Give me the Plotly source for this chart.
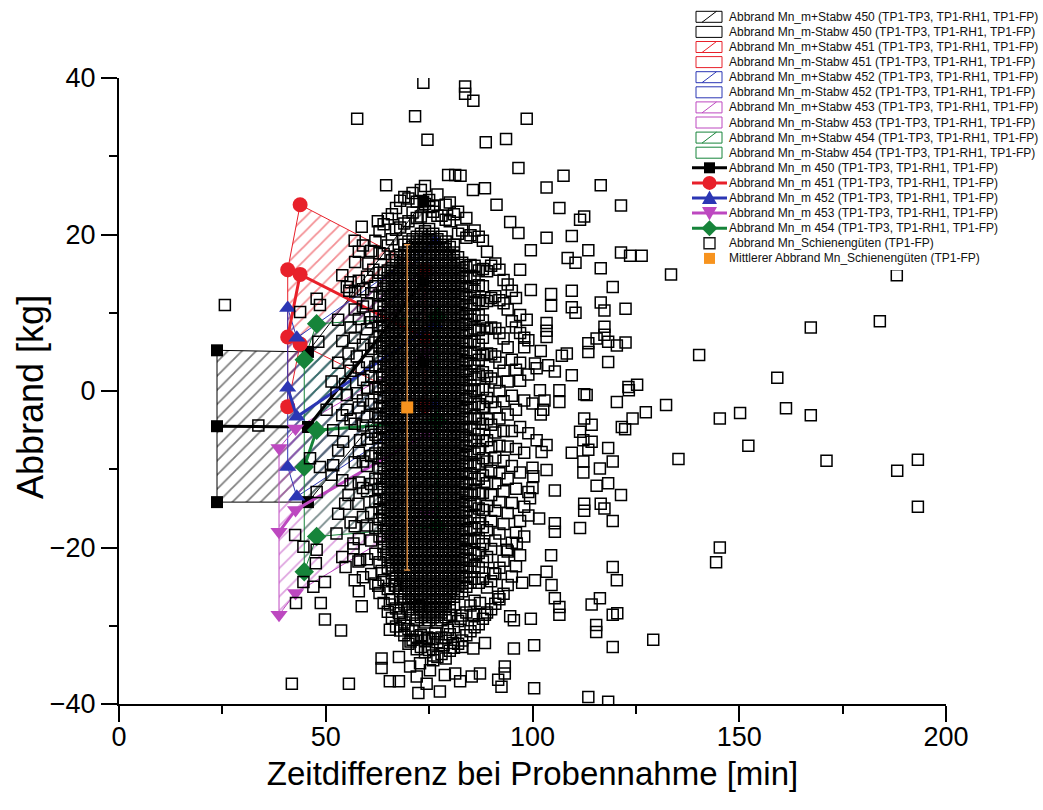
import plotly.graph_objects as go

# ---------------------------------------------------------------
# Abbrand Mn je Schmelze (Zeitpunkte TP1-TP3, TP1-RH1, TP1-FP)
# ---------------------------------------------------------------
zeit_450 = [23.7, 45.7, 73.6]
mittel_450 = [-4.5, -4.6, 14.0]
plus_450 = [5.2, 5.0, 24.2]
minus_450 = [-14.2, -14.2, 3.8]

zeit_451 = [40.8, 43.8, 74.0]
mittel_451 = [6.9, 14.9, 6.8]
plus_451 = [15.5, 23.8, 15.5]
minus_451 = [-2.0, 6.0, -1.9]

zeit_452 = [40.8, 43.0, 76.4]
mittel_452 = [0.4, -3.3, 8.6]
plus_452 = [10.6, 6.8, 19.1]
minus_452 = [-9.7, -13.5, -1.9]

zeit_453 = [38.7, 42.7, 74.4]
mittel_453 = [-18.0, -15.2, -5.5]
plus_453 = [-7.3, -4.8, 5.0]
minus_453 = [-28.6, -25.8, -15.8]

zeit_454 = [44.8, 47.8, 77.0]
mittel_454 = [-9.7, -5.0, -3.8]
plus_454 = [4.0, 8.6, 9.5]
minus_454 = [-23.1, -18.6, -17.3]

# Mittlerer Abbrand aller Schienengüten (TP1-FP) mit Standardabweichung
mittel_schiene_x = [69.7]
mittel_schiene_y = [-2.1]
mittel_schiene_std = [20.8]

# Einzelwerte Schienengüten (TP1-FP): Abbrand [kg] je Minute Zeitdifferenz
schiene_spalten = {
    53: "-15.7 -7.6 3.6 9.1",
    54: "-21.2 -11.4 -3.1 6.4 14.8",
    56: "-16.8 -11.9 -3.6 2.6 8.1 13.9",
    57: "-24.2 -17.3 -9.1 -4.2 6.8 10.4 19.2",
    58: "-25.6 -18.9 -11.7 -7.9 -2.1 3.0 9.2 14.1 17.8",
    59: "-23.8 -16.1 -12.4 -9.0 -4.4 -1.2 5.9 10.8 13.0 18.6",
    60: "-21.5 -17.2 -12.8 -9.6 -6.1 -3.3 0.4 3.7 7.9 11.2 14.6",
    61: "-23.4 -19.1 -15.6 -11.9 -8.3 -5.2 -1.7 1.9 5.4 8.8 12.5 17.9",
    62: "-24.6 -20.8 -17.5 -14.1 -11.2 -8.0 -5.6 -2.9 0.3 3.1 6.2 9.5 13.4 19.2",
    63: "-25.8 -21.9 -18.6 -16.4 -15.1 -13.8 -12.5 -11.2 -9.9 -8.6 -7.3 -6.0 -4.7 -3.4 -2.1 "
        "-0.8 0.5 1.8 3.1 4.4 5.7 7.0 8.3 9.6 10.9 12.2 15.1 17.6 20.4",
    64: "-27.1 -24.2 -20.9 -19.9 -18.9 -17.9 -16.9 -15.9 -14.9 -13.9 -12.9 -11.9 -10.9 -9.9 "
        "-8.9 -7.9 -6.9 -5.9 -4.9 -3.9 -2.9 -1.9 -0.9 0.1 1.1 2.1 3.1 4.1 5.1 6.1 7.1 8.1 9.1 "
        "10.1 11.1 12.1 13.1 14.1 15.1 17.5 21.3",
    65: "-28.2 -25.3 -22.6 -21.6 -20.6 -19.6 -18.6 -17.6 -16.6 -15.6 -14.6 -13.6 -12.6 -11.6 "
        "-10.6 -9.6 -8.6 -7.6 -6.6 -5.6 -4.6 -3.6 -2.6 -1.6 -0.6 0.4 1.4 2.4 3.4 4.4 5.4 6.4 "
        "7.4 8.4 9.4 10.4 11.4 12.4 13.4 14.4 15.4 18.6 22.0",
    66: "-29.0 -26.6 -24.3 -23.3 -22.3 -21.3 -20.3 -19.3 -18.3 -17.3 -16.3 -15.3 -14.3 -13.3 "
        "-12.3 -11.3 -10.3 -9.3 -8.3 -7.3 -6.3 -5.3 -4.3 -3.3 -2.3 -1.3 -0.3 0.7 1.7 2.7 3.7 "
        "4.7 5.7 6.7 7.7 8.7 9.7 10.7 11.7 12.7 13.7 14.7 15.7 16.7 19.4 22.6",
    67: "-30.1 -27.8 -24.9 -23.9 -22.9 -21.9 -20.9 -19.9 -18.9 -17.9 -16.9 -15.9 -14.9 -13.9 "
        "-12.9 -11.9 -10.9 -9.9 -8.9 -7.9 -6.9 -5.9 -4.9 -3.9 -2.9 -1.9 -0.9 0.1 1.1 2.1 3.1 "
        "4.1 5.1 6.1 7.1 8.1 9.1 10.1 11.1 12.1 13.1 14.1 15.1 16.1 17.1 20.6 23.4",
    68: "-30.6 -28.9 -26.6 -25.6 -24.6 -23.6 -22.6 -21.6 -20.6 -19.6 -18.6 -17.6 -16.6 -15.6 "
        "-14.6 -13.6 -12.6 -11.6 -10.6 -9.6 -8.6 -7.6 -6.6 -5.6 -4.6 -3.6 -2.6 -1.6 -0.6 0.4 "
        "1.4 2.4 3.4 4.4 5.4 6.4 7.4 8.4 9.4 10.4 11.4 12.4 13.4 14.4 15.4 16.4 17.4 20.9 24.3",
    69: "-31.2 -29.6 -27.3 -26.3 -25.3 -24.3 -23.3 -22.3 -21.3 -20.3 -19.3 -18.3 -17.3 -16.3 "
        "-15.3 -14.3 -13.3 -12.3 -11.3 -10.3 -9.3 -8.3 -7.3 -6.3 -5.3 -4.3 -3.3 -2.3 -1.3 -0.3 "
        "0.7 1.7 2.7 3.7 4.7 5.7 6.7 7.7 8.7 9.7 10.7 11.7 12.7 13.7 14.7 15.7 16.7 17.7 18.7 "
        "21.4 24.8",
    70: "-32.3 -30.4 -27.9 -26.9 -25.9 -24.9 -23.9 -22.9 -21.9 -20.9 -19.9 -18.9 -17.9 -16.9 "
        "-15.9 -14.9 -13.9 -12.9 -11.9 -10.9 -9.9 -8.9 -7.9 -6.9 -5.9 -4.9 -3.9 -2.9 -1.9 -0.9 "
        "0.1 1.1 2.1 3.1 4.1 5.1 6.1 7.1 8.1 9.1 10.1 11.1 12.1 13.1 14.1 15.1 16.1 17.1 18.1 "
        "19.1 21.7 24.6",
    71: "-31.8 -30.6 -28.6 -27.6 -26.6 -25.6 -24.6 -23.6 -22.6 -21.6 -20.6 -19.6 -18.6 -17.6 "
        "-16.6 -15.6 -14.6 -13.6 -12.6 -11.6 -10.6 -9.6 -8.6 -7.6 -6.6 -5.6 -4.6 -3.6 -2.6 -1.6 "
        "-0.6 0.4 1.4 2.4 3.4 4.4 5.4 6.4 7.4 8.4 9.4 10.4 11.4 12.4 13.4 14.4 15.4 16.4 17.4 "
        "18.4 19.4 22.8 25.3",
    72: "-33.0 -31.4 -29.3 -28.3 -27.3 -26.3 -25.3 -24.3 -23.3 -22.3 -21.3 -20.3 -19.3 -18.3 "
        "-17.3 -16.3 -15.3 -14.3 -13.3 -12.3 -11.3 -10.3 -9.3 -8.3 -7.3 -6.3 -5.3 -4.3 -3.3 "
        "-2.3 -1.3 -0.3 0.7 1.7 2.7 3.7 4.7 5.7 6.7 7.7 8.7 9.7 10.7 11.7 12.7 13.7 14.7 15.7 "
        "16.7 17.7 18.7 19.7 22.1 24.2",
    73: "-32.7 -31.2 -28.9 -27.9 -26.9 -25.9 -24.9 -23.9 -22.9 -21.9 -20.9 -19.9 -18.9 -17.9 "
        "-16.9 -15.9 -14.9 -13.9 -12.9 -11.9 -10.9 -9.9 -8.9 -7.9 -6.9 -5.9 -4.9 -3.9 -2.9 "
        "-1.9 -0.9 0.1 1.1 2.1 3.1 4.1 5.1 6.1 7.1 8.1 9.1 10.1 11.1 12.1 13.1 14.1 15.1 16.1 "
        "17.1 18.1 19.1 20.1 22.3 25.7",
    74: "-33.4 -31.9 -29.6 -28.6 -27.6 -26.6 -25.6 -24.6 -23.6 -22.6 -21.6 -20.6 -19.6 -18.6 "
        "-17.6 -16.6 -15.6 -14.6 -13.6 -12.6 -11.6 -10.6 -9.6 -8.6 -7.6 -6.6 -5.6 -4.6 -3.6 "
        "-2.6 -1.6 -0.6 0.4 1.4 2.4 3.4 4.4 5.4 6.4 7.4 8.4 9.4 10.4 11.4 12.4 13.4 14.4 15.4 "
        "16.4 17.4 18.4 19.4 20.4 23.9 26.2",
    75: "-33.1 -31.6 -29.3 -28.3 -27.3 -26.3 -25.3 -24.3 -23.3 -22.3 -21.3 -20.3 -19.3 -18.3 "
        "-17.3 -16.3 -15.3 -14.3 -13.3 -12.3 -11.3 -10.3 -9.3 -8.3 -7.3 -6.3 -5.3 -4.3 -3.3 "
        "-2.3 -1.3 -0.3 0.7 1.7 2.7 3.7 4.7 5.7 6.7 7.7 8.7 9.7 10.7 11.7 12.7 13.7 14.7 15.7 "
        "16.7 17.7 18.7 19.7 20.7 23.5 24.4",
    76: "-33.8 -31.7 -28.9 -27.9 -26.9 -25.9 -24.9 -23.9 -22.9 -21.9 -20.9 -19.9 -18.9 -17.9 "
        "-16.9 -15.9 -14.9 -13.9 -12.9 -11.9 -10.9 -9.9 -8.9 -7.9 -6.9 -5.9 -4.9 -3.9 -2.9 "
        "-1.9 -0.9 0.1 1.1 2.1 3.1 4.1 5.1 6.1 7.1 8.1 9.1 10.1 11.1 12.1 13.1 14.1 15.1 16.1 "
        "17.1 18.1 19.1 20.1 22.9 23.6",
    77: "-34.0 -32.1 -29.6 -28.6 -27.6 -26.6 -25.6 -24.6 -23.6 -22.6 -21.6 -20.6 -19.6 -18.6 "
        "-17.6 -16.6 -15.6 -14.6 -13.6 -12.6 -11.6 -10.6 -9.6 -8.6 -7.6 -6.6 -5.6 -4.6 -3.6 "
        "-2.6 -1.6 -0.6 0.4 1.4 2.4 3.4 4.4 5.4 6.4 7.4 8.4 9.4 10.4 11.4 12.4 13.4 14.4 15.4 "
        "16.4 17.4 18.4 19.4 22.4 25.1",
    78: "-33.6 -31.5 -29.3 -28.3 -27.3 -26.3 -25.3 -24.3 -23.3 -22.3 -21.3 -20.3 -19.3 -18.3 "
        "-17.3 -16.3 -15.3 -14.3 -13.3 -12.3 -11.3 -10.3 -9.3 -8.3 -7.3 -6.3 -5.3 -4.3 -3.3 "
        "-2.3 -1.3 -0.3 0.7 1.7 2.7 3.7 4.7 5.7 6.7 7.7 8.7 9.7 10.7 11.7 12.7 13.7 14.7 15.7 "
        "16.7 17.7 18.7 19.7 22.4",
    79: "-34.2 -31.6 -28.9 -27.9 -26.9 -25.9 -24.9 -23.9 -22.9 -21.9 -20.9 -19.9 -18.9 -17.9 "
        "-16.9 -15.9 -14.9 -13.9 -12.9 -11.9 -10.9 -9.9 -8.9 -7.9 -6.9 -5.9 -4.9 -3.9 -2.9 "
        "-1.9 -0.9 0.1 1.1 2.1 3.1 4.1 5.1 6.1 7.1 8.1 9.1 10.1 11.1 12.1 13.1 14.1 15.1 16.1 "
        "17.1 18.1 19.1 21.9 23.8",
    80: "-33.2 -31.1 -28.6 -27.6 -26.6 -25.6 -24.6 -23.6 -22.6 -21.6 -20.6 -19.6 -18.6 -17.6 "
        "-16.6 -15.6 -14.6 -13.6 -12.6 -11.6 -10.6 -9.6 -8.6 -7.6 -6.6 -5.6 -4.6 -3.6 -2.6 "
        "-1.6 -0.6 0.4 1.4 2.4 3.4 4.4 5.4 6.4 7.4 8.4 9.4 10.4 11.4 12.4 13.4 14.4 15.4 16.4 "
        "17.4 18.4 21.7 24.1",
    81: "-32.8 -30.2 -27.3 -26.3 -25.3 -24.3 -23.3 -22.3 -21.3 -20.3 -19.3 -18.3 -17.3 -16.3 "
        "-15.3 -14.3 -13.3 -12.3 -11.3 -10.3 -9.3 -8.3 -7.3 -6.3 -5.3 -4.3 -3.3 -2.3 -1.3 "
        "-0.3 0.7 1.7 2.7 3.7 4.7 5.7 6.7 7.7 8.7 9.7 10.7 11.7 12.7 13.7 14.7 15.7 16.7 17.7 "
        "18.7 22.6",
    82: "-32.3 -29.4 -25.9 -24.9 -23.9 -22.9 -21.9 -20.9 -19.9 -18.9 -17.9 -16.9 -15.9 -14.9 "
        "-13.9 -12.9 -11.9 -10.9 -9.9 -8.9 -7.9 -6.9 -5.9 -4.9 -3.9 -2.9 -1.9 -0.9 0.1 1.1 "
        "2.1 3.1 4.1 5.1 6.1 7.1 8.1 9.1 10.1 11.1 12.1 13.1 14.1 15.1 16.1 17.1 20.1 22.9",
    83: "-31.9 -28.7 -25.6 -24.6 -23.6 -22.6 -21.6 -20.6 -19.6 -18.6 -17.6 -16.6 -15.6 -14.6 "
        "-13.6 -12.6 -11.6 -10.6 -9.6 -8.6 -7.6 -6.6 -5.6 -4.6 -3.6 -2.6 -1.6 -0.6 0.4 1.4 "
        "2.4 3.4 4.4 5.4 6.4 7.4 8.4 9.4 10.4 11.4 12.4 13.4 14.4 15.4 16.4 20.5",
    84: "-31.2 -28.3 -25.0 -23.8 -22.6 -21.4 -20.2 -19.0 -17.8 -16.6 -15.4 -14.2 -13.0 -11.8 "
        "-10.6 -9.4 -8.2 -7.0 -5.8 -4.6 -3.4 -2.2 -1.0 0.2 1.4 2.6 3.8 5.0 6.2 7.4 8.6 9.8 "
        "11.0 12.2 13.4 14.6 15.8 19.6 22.1",
    85: "-30.7 -27.4 -24.5 -23.1 -21.7 -20.3 -18.9 -17.5 -16.1 -14.7 -13.3 -11.9 -10.5 -9.1 "
        "-7.7 -6.3 -4.9 -3.5 -2.1 -0.7 0.7 2.1 3.5 4.9 6.3 7.7 9.1 10.5 11.9 13.3 14.7 16.1 "
        "19.9",
    86: "-30.2 -26.8 -24.0 -22.4 -20.8 -19.2 -17.6 -16.0 -14.4 -12.8 -11.2 -9.6 -8.0 -6.4 "
        "-4.8 -3.2 -1.6 0.0 1.6 3.2 4.8 6.4 8.0 9.6 11.2 12.8 14.4 16.0 20.5",
    87: "-29.8 -24.5 -22.6 -20.7 -18.8 -16.9 -15.0 -13.1 -11.2 -9.3 -7.4 -5.5 -3.6 -1.7 0.2 "
        "2.1 4.0 5.9 7.8 9.7 11.6 13.5 15.4 19.7",
    88: "-29.1 -24.0 -21.8 -19.6 -17.4 -15.2 -13.0 -10.8 -8.6 -6.4 -4.2 -2.0 0.2 2.4 4.6 6.8 "
        "9.0 11.2 13.4 15.6 19.2",
    89: "-28.3 -25.1 -21.2 -17.8 -14.7 -11.8 -9.0 -6.3 -3.6 -0.9 1.9 4.8 8.0 11.5 15.3 17.8",
    90: "-27.9 -24.3 -20.2 -16.6 -13.3 -10.2 -7.2 -4.3 -1.4 1.6 4.7 8.1 11.9 16.0",
    91: "-27.2 -23.4 -19.1 -15.3 -11.8 -8.5 -5.3 -2.1 1.1 4.4 8.0 12.1 16.3",
    92: "-26.6 -22.6 -18.2 -14.2 -10.5 -7.0 -3.5 0.0 3.6 7.4 11.6 15.5",
    93: "-25.9 -21.7 -17.0 -12.8 -8.9 -5.1 -1.3 2.6 6.7 11.2 14.2",
    94: "-24.8 -20.5 -15.6 -11.2 -7.1 -3.0 1.2 5.6 10.4 13.6",
    95: "-23.7 -19.4 -14.3 -9.6 -5.1 -0.6 4.0 8.9 12.8",
    96: "-22.4 -18.1 -12.5 -7.4 -2.4 2.7 8.1 11.9",
    97: "-21.0 -16.6 -10.4 -4.6 1.3 7.4 9.7",
    98: "-18.6 -14.8 -7.9 -1.2 5.6 6.8",
    99: "-15.9 -12.9 -5.4 2.1",
    100: "-12.4 -9.8 -1.6",
    101: "-6.3 2.9",
    102: "-3.0 5.1",
}

# Einzelwerte Schienengüten (TP1-FP): verstreute Punkte (Zeit, Abbrand)
schiene_einzel = [
    (25.6, 11.0), (33.7, -4.4), (41.8, -37.4), (55.6, -37.4), (43.8, 10.1), (47.8, 11.8),
    (48.6, 11.0), (48.2, 6.3), (51.4, 1.2), (52.6, -0.3), (55.1, -0.5), (50.2, -2.4),
    (55.1, -2.4), (51.8, -5.0), (54.2, -6.5), (58.3, -6.3), (55.1, 13.3), (55.7, 12.8),
    (57.1, 16.5), (60.3, 16.3), (61.5, 15.5), (57.1, 12.7), (55.5, 4.8), (57.5, 4.4),
    (54.7, 0.9), (57.5, -0.3), (59.1, 1.4), (46.2, -8.6), (48.6, -9.7), (51.4, -10.7),
    (51.8, -9.5), (47.8, -12.9), (55.5, -13.3), (57.9, -14.4), (54.7, -14.4), (42.6, -18.4),
    (44.6, -19.9), (47.8, -20.3), (52.6, -18.2), (56.7, -19.5), (56.7, -20.1), (47.6, -22.0),
    (54.8, -22.5), (57.9, -21.8), (58.3, -21.6), (47.0, -25.0), (49.8, -24.4), (44.6, -24.4),
    (42.8, -27.1), (48.8, -27.1), (49.8, -29.2), (53.7, -30.6), (58.7, -27.5),
    (57.6, 34.8), (71.6, 35.1), (73.6, 39.4), (74.6, 32.1), (64.6, 26.3), (62.6, 21.7),
    (58.7, 21.0), (83.7, 38.9), (83.7, 38.0), (85.7, 37.1), (98.6, 34.8), (88.7, 31.8),
    (93.6, 32.2), (96.6, 28.5), (79.6, 27.6), (81.3, 27.6), (82.6, 27.5), (107.5, 27.5),
    (103.4, 26.0), (116.5, 26.3), (106.5, 23.4), (111.5, 21.9), (112.5, 22.3), (121.4, 23.7),
    (103.4, 19.6), (109.5, 19.8), (113.5, 18.0), (99.6, 18.0), (108.5, 17.0), (110.4, 16.4),
    (116.5, 15.7), (121.4, 17.7), (123.6, 17.3), (126.4, 17.3), (133.5, 14.9), (119.4, 13.3),
    (99.6, 12.9), (104.5, 12.4), (104.5, 10.9), (109.5, 12.8), (110.4, 10.0), (109.5, 10.7),
    (116.5, 11.3), (117.4, 10.3), (122.5, 10.5), (103.4, 8.7), (103.4, 7.7), (103.4, 6.9),
    (117.4, 8.2), (117.4, 7.2), (113.5, 6.1), (113.5, 5.0), (115.5, 6.7), (118.3, 6.3),
    (120.4, 5.8), (122.5, 6.2), (118.3, 3.7), (108.3, 4.8), (107.1, 4.5), (100.6, 3.5),
    (103.8, 3.3), (105.4, 2.5), (109.5, 2.0), (123.2, 0.5), (125.3, 0.8),
    (85.6, 25.7), (88.5, 25.9), (91.3, 23.8), (94.6, 21.6), (96.6, 20.2), (97.0, 15.5),
    (98.6, 9.1), (99.0, 6.5), (97.0, 3.6),
    (188.1, 14.8), (184.0, 8.9), (167.3, 8.1), (140.3, 4.6), (159.2, 1.7), (145.3, -3.5),
    (150.2, -2.8), (161.3, -2.2), (167.3, -3.1), (152.2, -7.0), (171.1, -8.9), (188.2, -10.2),
    (193.2, -8.8), (193.2, -14.8), (145.3, -20.0), (144.4, -21.9),
    (123.3, 0.1), (132.3, -1.8), (127.4, -2.7), (124.2, -3.5), (121.6, -4.6), (122.4, -4.9),
    (120.4, -1.4), (135.3, -8.7), (112.5, -0.4), (113.1, -0.5), (106.5, 0.1), (106.5, -1.4),
    (112.5, -3.5), (114.3, -4.3), (111.5, -5.2), (112.3, -6.3), (114.3, -6.5), (113.5, -7.5),
    (109.5, -7.9), (118.3, -7.3), (119.4, -9.0), (116.3, -9.9), (112.3, -9.0), (112.3, -10.4),
    (115.5, -12.1), (118.3, -11.8), (121.4, -13.3), (112.5, -14.4), (112.5, -15.3), (116.5, -14.4),
    (117.4, -15.0), (119.4, -16.6), (111.5, -17.5), (105.4, -12.7), (105.4, -16.9), (105.4, -18.0),
    (101.6, -16.3), (104.5, -21.0), (119.4, -22.5), (120.4, -24.2), (103.4, -23.1), (100.6, -24.2),
    (97.5, -24.5), (104.6, -24.8), (105.4, -26.5), (106.5, -27.6), (106.5, -28.6), (116.3, -26.5),
    (114.3, -27.3), (115.4, -29.9), (115.4, -30.8), (119.4, -28.6), (120.5, -28.4), (129.2, -31.8),
    (119.4, -32.7), (100.4, -32.5), (95.5, -32.9), (99.6, -29.1), (95.5, -29.3), (94.6, -28.8),
    (100.4, -38.0), (113.5, -39.1), (118.3, -39.7), (92.5, -37.8), (93.3, -35.2), (93.3, -36.1),
    (91.7, -36.9), (88.5, -32.2), (85.7, -32.9), (82.9, -32.7), (80.8, -32.2), (87.3, -36.1),
    (85.3, -36.5), (82.5, -37.1), (81.3, -36.1), (82.6, -29.1), (85.7, -28.6), (88.5, -28.6),
    (101.8, 0.1), (103.4, -6.9), (102.2, -7.8), (103.4, -10.1), (100.2, -10.9), (99.4, -13.7),
    (96.2, -19.5), (93.8, -20.3), (90.5, -23.3), (91.7, -26.3), (87.3, -27.1), (102.9, -1.2),
    (102.6, -2.4),
    (63.5, -23.0), (62.7, -24.9), (66.7, -24.9), (65.5, -27.3), (67.7, -28.4), (65.5, -30.5),
    (72.6, -27.5), (63.5, -34.2), (63.5, -35.4), (67.7, -34.0), (65.5, -37.1), (67.7, -37.1),
    (70.4, -35.2), (72.8, -34.8), (75.2, -35.7), (76.0, -34.4), (72.0, -36.5), (74.4, -37.4),
    (72.4, -38.6), (77.6, -38.4), (78.8, -36.3), (76.5, -31.0), (78.5, -32.5), (79.5, -30.5),
    (74.5, -31.5), (70.5, -32.0), (69.0, -30.0),
]

# Achsen
x_bereich = [0, 200]
y_bereich = [-40, 40]

# ---------------------------------------------------------------
schmelzen = [
    ("450", "#000000", "square", 12, zeit_450, mittel_450, plus_450, minus_450),
    ("451", "#E8202A", "circle", 15, zeit_451, mittel_451, plus_451, minus_451),
    ("452", "#2B36B4", "triangle-up", 15, zeit_452, mittel_452, plus_452, minus_452),
    ("453", "#BD48C0", "triangle-down", 15, zeit_453, mittel_453, plus_453, minus_453),
    ("454", "#16843A", "diamond", 15, zeit_454, mittel_454, plus_454, minus_454),
]
zusatz = " (TP1-TP3, TP1-RH1, TP1-FP)"

fig = go.Figure()

# schraffierte Streubänder (Mittelwert +/- Standardabweichung)
for nr, farbe, sym, msize, t, m, p, n in schmelzen:
    poly_x = t + t[::-1] + [t[0]]
    poly_y = p + n[::-1] + [p[0]]
    fig.add_trace(go.Scatter(
        x=poly_x, y=poly_y, mode="lines", fill="toself",
        fillcolor="rgba(0,0,0,0)",
        fillpattern=dict(shape="/", fgcolor=farbe, bgcolor="rgba(0,0,0,0)",
                         size=10, solidity=0.18),
        line=dict(color=farbe, width=1),
        name="Abbrand Mn_m+Stabw " + nr + zusatz, showlegend=False, hoverinfo="skip"))

# Mittelwertlinien mit Symbolen
for nr, farbe, sym, msize, t, m, p, n in schmelzen:
    fig.add_trace(go.Scatter(
        x=t, y=m, mode="lines+markers",
        line=dict(color=farbe, width=3),
        marker=dict(symbol=sym, size=msize, color=farbe, line=dict(width=0)),
        name="Abbrand Mn_m " + nr + zusatz, showlegend=False))
    fig.add_trace(go.Scatter(
        x=t + t, y=p + n, mode="markers",
        marker=dict(symbol=sym, size=msize, color=farbe, line=dict(width=0)),
        showlegend=False, hoverinfo="skip"))

# Einzelwerte der Schienengüten
sx, sy = [], []
for t, werte in schiene_spalten.items():
    for w in werte.split():
        sx.append(t)
        sy.append(float(w))
for t, w in schiene_einzel:
    sx.append(t)
    sy.append(w)

fig.add_trace(go.Scatter(
    x=sx, y=sy, mode="markers",
    marker=dict(symbol="square", size=11, color="rgba(0,0,0,0)",
                line=dict(color="#000000", width=1.5)),
    name="Abbrand Mn_Schienengüten (TP1-FP)", showlegend=False))

# Mittelwert der Schienengüten mit Fehlerbalken
fig.add_trace(go.Scatter(
    x=mittel_schiene_x, y=mittel_schiene_y, mode="markers",
    marker=dict(symbol="square", size=12, color="#F7931E", line=dict(width=0)),
    error_y=dict(type="data", array=mittel_schiene_std, color="#F29A45",
                 thickness=1.3, width=3),
    name="Mittlerer Abbrand Mn_Schienengüten (TP1-FP)", showlegend=False))

# ---------------------------------------------------------------
# Legende (oben rechts), aus Formen und Texten aufgebaut
# ---------------------------------------------------------------
PL, PR, PT, PB = 119, 946, 78, 704


def px(xp):
    return (xp - PL) / (PR - PL)


def py(yp):
    return (PB - yp) / (PB - PT)


shapes = [dict(type="rect", xref="paper", yref="paper", x0=px(688), x1=px(1043),
               y0=py(0), y1=py(270), fillcolor="white", line=dict(width=0), layer="above")]
annotations = []

eintraege = []
for nr, farbe, sym, msize, *_ in schmelzen:
    eintraege.append(("hatch", farbe, None, "Abbrand Mn_m+Stabw " + nr + zusatz))
    eintraege.append(("box", farbe, None, "Abbrand Mn_m-Stabw " + nr + zusatz))
for nr, farbe, sym, msize, *_ in schmelzen:
    eintraege.append(("mean", farbe, sym, "Abbrand Mn_m " + nr + zusatz))
eintraege.append(("hollow", "#1a1a1a", None, "Abbrand Mn_Schienengüten (TP1-FP)"))
eintraege.append(("filled", "#F7931E", None, "Mittlerer Abbrand Mn_Schienengüten (TP1-FP)"))


def glyph(sym, cx, cy, farbe):
    if sym == "square":
        return dict(type="rect", xref="paper", yref="paper", x0=px(cx - 5.5), x1=px(cx + 5.5),
                    y0=py(cy + 5.5), y1=py(cy - 5.5), fillcolor=farbe, line=dict(width=0),
                    layer="above")
    if sym == "circle":
        return dict(type="circle", xref="paper", yref="paper", x0=px(cx - 7), x1=px(cx + 7),
                    y0=py(cy + 7), y1=py(cy - 7), fillcolor=farbe, line=dict(width=0),
                    layer="above")
    if sym == "triangle-up":
        pts = [(cx - 7.5, cy + 6), (cx + 7.5, cy + 6), (cx, cy - 7.5)]
    elif sym == "triangle-down":
        pts = [(cx - 7.5, cy - 6), (cx + 7.5, cy - 6), (cx, cy + 7.5)]
    else:
        pts = [(cx, cy - 8), (cx + 8, cy), (cx, cy + 8), (cx - 8, cy)]
    path = "M " + " L ".join(f"{px(a):.5f},{py(b):.5f}" for a, b in pts) + " Z"
    return dict(type="path", xref="paper", yref="paper", path=path, fillcolor=farbe,
                line=dict(width=0), layer="above")


for i, (art, farbe, sym, text) in enumerate(eintraege):
    yc = 16.8 + 15.1 * i
    if art in ("hatch", "box"):
        shapes.append(dict(type="rect", xref="paper", yref="paper", x0=px(696), x1=px(722),
                           y0=py(yc + 5.5), y1=py(yc - 5.5), line=dict(color=farbe, width=1),
                           fillcolor="rgba(0,0,0,0)", layer="above"))
        if art == "hatch":
            shapes.append(dict(type="line", xref="paper", yref="paper", x0=px(702), x1=px(716.5),
                               y0=py(yc + 5.5), y1=py(yc - 5.5),
                               line=dict(color=farbe, width=1), layer="above"))
    elif art == "mean":
        shapes.append(dict(type="line", xref="paper", yref="paper", x0=px(692), x1=px(727),
                           y0=py(yc), y1=py(yc), line=dict(color=farbe, width=3), layer="above"))
        shapes.append(glyph(sym, 709.5, yc, farbe))
    elif art == "hollow":
        shapes.append(dict(type="rect", xref="paper", yref="paper", x0=px(704), x1=px(715),
                           y0=py(yc + 5.5), y1=py(yc - 5.5), line=dict(color=farbe, width=1.4),
                           fillcolor="white", layer="above"))
    else:
        shapes.append(dict(type="rect", xref="paper", yref="paper", x0=px(704), x1=px(715),
                           y0=py(yc + 5.5), y1=py(yc - 5.5), line=dict(width=0),
                           fillcolor=farbe, layer="above"))
    annotations.append(dict(xref="paper", yref="paper", x=px(727), y=py(yc), text=text,
                            showarrow=False, xanchor="left", yanchor="middle",
                            font=dict(size=12, color="#111111",
                                      family="Liberation Sans, Arial, sans-serif")))

schrift = "Liberation Sans, Arial, sans-serif"

# Titel der y-Achse
annotations.append(dict(xref="paper", yref="paper", x=px(30), y=py(397), text="Abbrand [kg]",
                        textangle=-90, showarrow=False, xanchor="center", yanchor="middle",
                        font=dict(size=36, family=schrift, color="black")))

fig.update_layout(
    width=1043, height=810,
    margin=dict(l=PL, r=1043 - PR, t=PT, b=810 - PB, autoexpand=False),
    paper_bgcolor="white", plot_bgcolor="white",
    font=dict(family=schrift, color="black"),
    showlegend=False,
    shapes=shapes,
    annotations=annotations,
    xaxis=dict(
        range=x_bereich, tick0=0, dtick=50, showgrid=False, zeroline=False,
        showline=True, linecolor="black", linewidth=2,
        ticks="outside", ticklen=16, tickwidth=2, tickcolor="black",
        minor=dict(dtick=25, ticks="outside", ticklen=8, tickwidth=2, tickcolor="black",
                   showgrid=False),
        tickfont=dict(size=27, family=schrift),
        ticklabelstandoff=-8,
        title=dict(text="Zeitdifferenz bei Probennahme [min]", standoff=10,
                   font=dict(size=33, family=schrift)),
    ),
    yaxis=dict(
        range=y_bereich, tick0=0, dtick=20, showgrid=False, zeroline=False,
        showline=True, linecolor="black", linewidth=2,
        ticks="outside", ticklen=16, tickwidth=2, tickcolor="black",
        minor=dict(dtick=10, ticks="outside", ticklen=8, tickwidth=2, tickcolor="black",
                   showgrid=False),
        tickfont=dict(size=27, family=schrift),
    ),
)

fig.write_html("out.html")
